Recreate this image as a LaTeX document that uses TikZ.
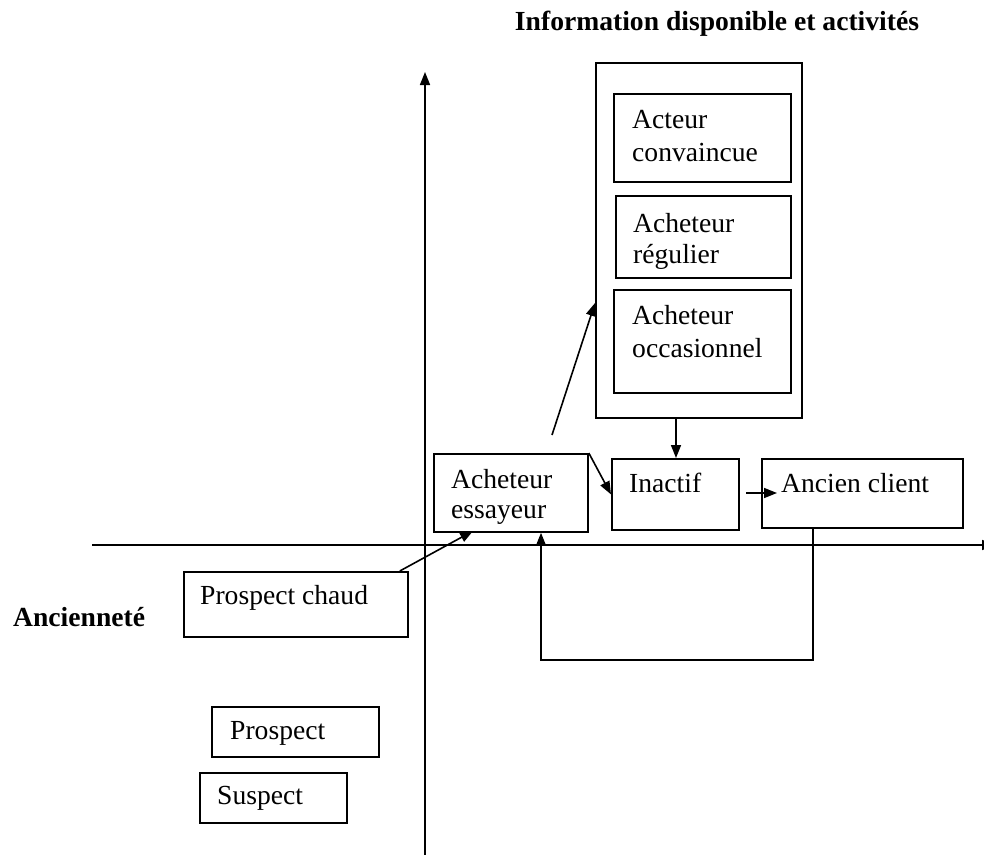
\documentclass[tikz,border=0pt]{standalone}
\usepackage{fontspec}
\setmainfont{Liberation Serif}
\usetikzlibrary{arrows.meta}
\begin{document}
\begin{tikzpicture}[x=1pt,y=-1pt,
  box/.style={draw, line width=1.8pt, inner sep=0pt, anchor=north west},
  lbl/.style={font=\fontsize{27.6}{33}\selectfont, inner sep=0pt, anchor=base west},
  heading/.style={font=\fontsize{27.6}{33}\selectfont\bfseries, inner sep=0pt},
  arr/.style={line width=1.6pt, -{Triangle[length=13pt,width=10pt]}},
  con/.style={line width=1.6pt}]
\useasboundingbox (0,0) rectangle (984,854);

% headings
\node[heading] (title) at (717,24) {Information disponible et activités};
\node[heading, anchor=base west] (anc) at (13,626) {Ancienneté};

% axes
\coordinate (ytop) at (425,72);
\coordinate (ybot) at (425,860);
\coordinate (xl) at (92,545);
\coordinate (xr) at (995,545);
\draw[arr] (ybot) -- (ytop);
\draw[arr] (xl) -- (xr);

% group of active buyers
\node[box, minimum width=206, minimum height=355] (outer) at (595,62) {};
\node[box, minimum width=177, minimum height=88] (conv) at (613,93) {};
\node[lbl] (convA) at (632,128) {Acteur};
\node[lbl] (convB) at (632,161) {convaincue};
\node[box, minimum width=175, minimum height=82] (reg) at (615,195) {};
\node[lbl] (regA) at (633,232) {Acheteur};
\node[lbl] (regB) at (633,263) {régulier};
\node[box, minimum width=177, minimum height=103] (occ) at (613,289) {};
\node[lbl] (occA) at (632,324) {Acheteur};
\node[lbl] (occB) at (632,357) {occasionnel};

% buyer path
\node[box, minimum width=154, minimum height=78] (ess) at (433,453) {};
\node[lbl] (essA) at (451,488) {Acheteur};
\node[lbl] (essB) at (451,518) {essayeur};
\node[box, minimum width=127, minimum height=71] (inact) at (611,458) {};
\node[lbl] (inactT) at (629,492) {Inactif};
\node[box, minimum width=201, minimum height=69] (ancien) at (761,458) {};
\node[lbl] (ancienT) at (781,492) {Ancien client};

% prospects
\node[box, minimum width=224, minimum height=65] (chaud) at (183,571) {};
\node[lbl] (chaudT) at (200,604) {Prospect chaud};
\node[box, minimum width=167, minimum height=50] (prosp) at (211,706) {};
\node[lbl] (prospT) at (230,739) {Prospect};
\node[box, minimum width=147, minimum height=50] (susp) at (199,772) {};
\node[lbl] (suspT) at (217,804) {Suspect};

% connectors
\coordinate (essOut) at (552,435);
\coordinate (outIn) at (595,303);
\draw[arr] (essOut) -- (outIn);
\draw[arr] (outer.south -| 676,0) -- (inact.north -| 676,0);
\draw[arr] (ess.north east) -- (inact.west);
\coordinate (iaOut) at (746,493);
\coordinate (iaIn) at (777,493);
\draw[arr] (iaOut) -- (iaIn);
\coordinate (lpA) at (813,660);
\coordinate (lpB) at (541,660);
\draw[arr] (lpA |- ancien.south) -- (lpA) -- (lpB) -- (lpB |- ess.south);
\coordinate (chIn) at (473,531);
\draw[arr] (chaud.north east) ++(-9,0) -- (chIn);
\end{tikzpicture}
\end{document}
